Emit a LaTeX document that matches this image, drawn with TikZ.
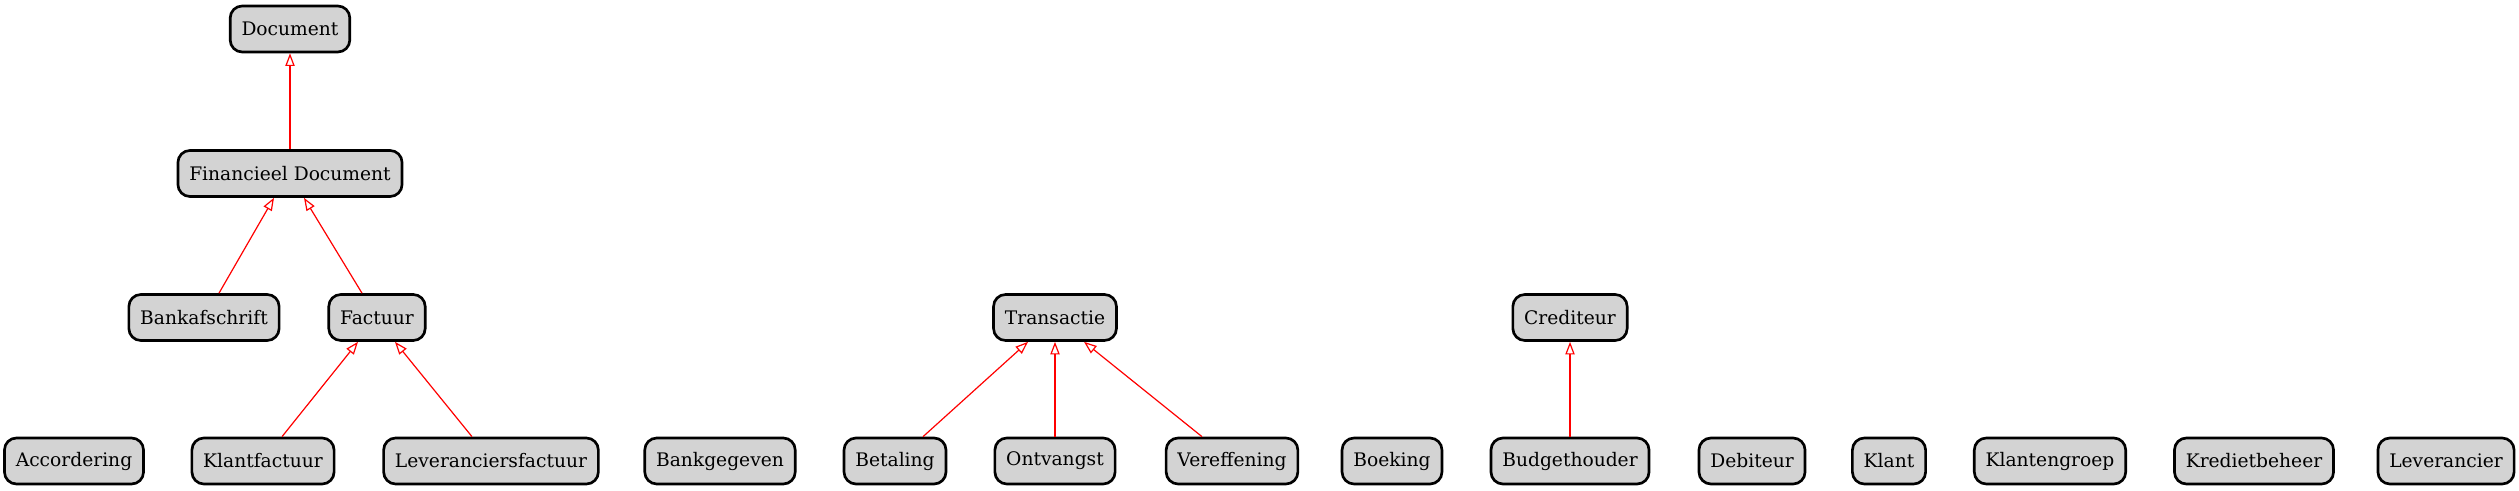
\documentclass[tikz,border=0pt]{standalone}
\usepackage{fontspec}
\setmainfont{DejaVu Serif}
\usetikzlibrary{arrows.meta,calc}
\definecolor{boxfill}{HTML}{D3D3D3}
\tikzset{
  cls/.style={draw=black, line width=2pt, fill=boxfill, rounded corners=9pt,
    minimum height=34.5pt, minimum width=52pt, inner xsep=8.5pt, inner ysep=0pt,
    font=\fontsize{14pt}{16pt}\selectfont},
  inherit/.style={draw=red, line width=0.9pt, -{Triangle[open, length=9.5pt, width=7pt]}}
}
\begin{document}
\begin{tikzpicture}[x=0.75pt, y=-0.75pt]
\useasboundingbox (0,0) rectangle (2519,491);
% row 1-3
\node[cls] (doc)   at (290,29)     {Document};
\node[cls] (fd)    at (290,173.5)  {Financieel Document};
\node[cls] (bank)  at (204,317.5)  {Bankafschrift};
\node[cls] (fact)  at (377,317.5)  {Factuur};
\node[cls] (trans) at (1055,317.5) {Transactie};
\node[cls] (cred)  at (1570,317.5) {Crediteur};
% row 4
\node[cls] (acc)   at (74,461)   {Accordering};
\node[cls] (klf)   at (263,461)  {Klantfactuur};
\node[cls] (levf)  at (491,461)  {Leveranciersfactuur};
\node[cls] (bankg) at (720,461)  {Bankgegeven};
\node[cls] (bet)   at (895,461)  {Betaling};
\node[cls] (ont)   at (1055,461) {Ontvangst};
\node[cls] (ver)   at (1232,461) {Vereffening};
\node[cls] (boek)  at (1392,461) {Boeking};
\node[cls] (budg)  at (1570,461) {Budgethouder};
\node[cls] (deb)   at (1752,461) {Debiteur};
\node[cls] (klant) at (1889,461) {Klant};
\node[cls] (klg)   at (2050,461) {Klantengroep};
\node[cls] (kred)  at (2254,461) {Kredietbeheer};
\node[cls] (lev)   at (2446,461) {Leverancier};
% edges
\draw[inherit] (fd.north) -- (doc.south);
\draw[inherit] ($(bank.north)+(15,0)$) -- ($(fd.south)+(-16,0)$);
\draw[inherit] ($(fact.north)+(-15,0)$) -- ($(fd.south)+(14,0)$);
\draw[inherit] ($(klf.north)+(19,0)$) -- ($(fact.south)+(-19,0)$);
\draw[inherit] ($(levf.north)+(-19,0)$) -- ($(fact.south)+(18,0)$);
\draw[inherit] ($(bet.north)+(28,0)$) -- ($(trans.south)+(-27,0)$);
\draw[inherit] (ont.north) -- (trans.south);
\draw[inherit] ($(ver.north)+(-30,0)$) -- ($(trans.south)+(29,0)$);
\draw[inherit] (budg.north) -- (cred.south);
\end{tikzpicture}
\end{document}
